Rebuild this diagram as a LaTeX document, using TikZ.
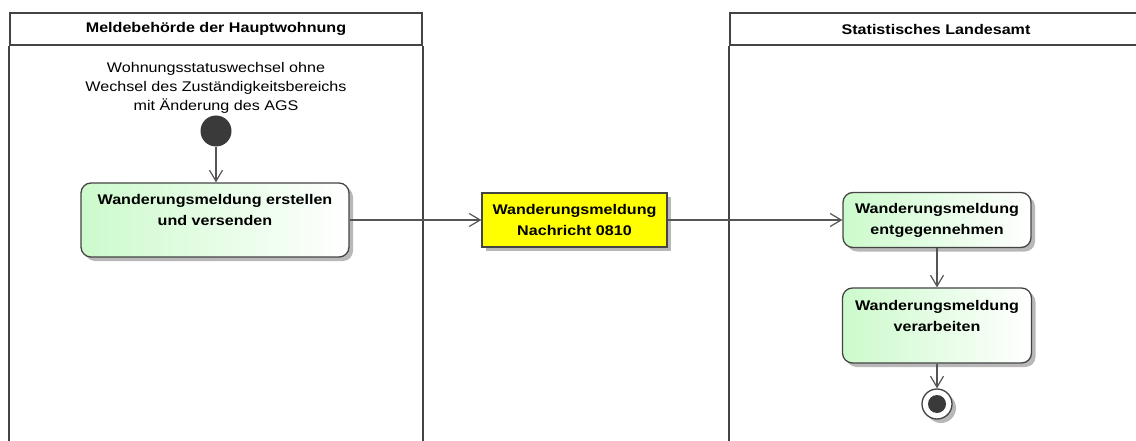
\documentclass[tikz,border=0pt]{standalone}
\usepackage{fontspec}
\newfontfamily\umlfont{Liberation Sans}[FakeStretch=1.15]
\usetikzlibrary{arrows.meta,shadows}
\definecolor{umlline}{HTML}{444444}
\definecolor{umlarrow}{HTML}{555555}
\definecolor{umldark}{HTML}{3A3A3A}
\definecolor{actgreen}{HTML}{CCFACC}
\definecolor{objyellow}{HTML}{FFFF00}
\tikzset{
  umlshadow/.style={drop shadow={shadow xshift=4pt,shadow yshift=-4pt,
    fill=black!35,opacity=.8}},
  lanehead/.style={draw=umlline,line width=2pt,minimum width=412,
    minimum height=32,font=\fontsize{14}{17}\selectfont\umlfont\bfseries},
  laneline/.style={draw=umlline,line width=2pt},
  action/.style={draw=umlline,line width=1.3pt,rounded corners=10,
    left color=actgreen,right color=white,align=center,inner xsep=4,
    inner ysep=6,umlshadow,font=\fontsize{14}{21}\selectfont\umlfont\bfseries},
  objbox/.style={draw=umlline,line width=1.3pt,fill=objyellow,align=center,
    inner xsep=4,inner ysep=6,umlshadow,
    font=\fontsize{14}{21}\selectfont\umlfont\bfseries},
  trigger/.style={align=center,inner sep=0,
    font=\fontsize{14}{19}\selectfont\umlfont},
  startdot/.style={circle,fill=umldark,minimum size=31,inner sep=0},
  enddot/.style={circle,draw=umlline,line width=1.3pt,fill=white,
    minimum size=30,inner sep=0,umlshadow,
    path picture={\fill[umldark] (path picture bounding box.center)
      circle (9pt);}},
  flow/.style={draw=umlarrow,line width=1.2pt,
    -{Straight Barb[length=11pt,width=13pt]}}
}
\begin{document}
\begin{tikzpicture}[x=1pt,y=-1pt]
  \useasboundingbox (0,0) rectangle (1136,441);
  % swimlanes
  \node[lanehead] (lane1) at (216,29) {Meldebehörde der Hauptwohnung};
  \node[lanehead] (lane2) at (936,29) {Statistisches Landesamt};
  \draw[laneline] (lane1.south west) -- ++(0,420)
    (lane1.south east) -- ++(0,420);
  \draw[laneline] (lane2.south west) -- ++(0,420)
    (lane2.south east) -- ++(0,420);
  % start
  \node[trigger] (cause) at (216,88) {Wohnungsstatuswechsel ohne\\
    Wechsel des Zuständigkeitsbereichs\\mit Änderung des AGS};
  \node[startdot] (start) at (216,131) {};
  % activities
  \node[action,minimum width=268,minimum height=74] (send) at (215,220)
    {Wanderungsmeldung erstellen\\und versenden\\[-8pt]\strut};
  \node[objbox,minimum width=185,minimum height=54] (msg) at (574.5,220)
    {Wanderungsmeldung\\Nachricht 0810};
  \node[action,minimum width=188,minimum height=55] (recv) at (937,220)
    {Wanderungsmeldung\\entgegennehmen};
  \node[action,minimum width=189,minimum height=75] (proc) at (937,325.5)
    {Wanderungsmeldung\\verarbeiten\\[-8pt]\strut};
  \node[enddot] (stop) at (937,404) {};
  % flows
  \draw[flow] (start.south) -- (start.south |- send.north);
  \draw[flow] (send) -- (msg);
  \draw[flow] (msg) -- (recv);
  \draw[flow] (recv) -- (proc);
  \draw[flow] (proc) -- (stop);
\end{tikzpicture}
\end{document}
